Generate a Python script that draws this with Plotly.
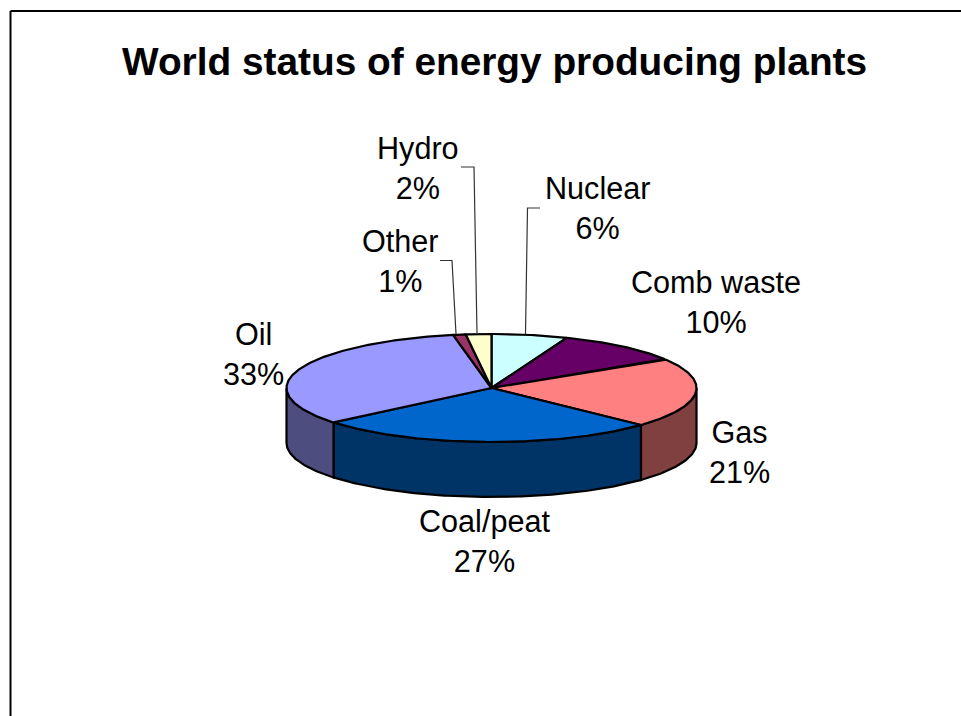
import numpy as np
import plotly.graph_objects as go

categories = ["Nuclear", "Comb waste", "Gas", "Coal/peat", "Oil", "Other", "Hydro"]
values = [6, 10, 21, 27, 33, 1, 2]
top_colors = ["#CCFFFF", "#660066", "#FF8080", "#0066CC", "#9999FF", "#993366", "#FFFFCC"]
wall_colors = ["#668080", "#330033", "#804040", "#003366", "#4D4D80", "#4D1A33", "#808066"]
label_pos = [(597, 208), (716, 302), (739, 452), (484, 541), (253, 354), (400, 261), (418, 168)]
leaders = {"Nuclear": [(540, 208), (527.5, 208), (525.5, 334)],
           "Other": [(440, 260.5), (452, 260.5), (456, 334)],
           "Hydro": [(461, 167), (474, 167), (477, 334)]}

CX, CY, RX, RY, DEPTH = 491.5, 388, 205, 54, 55
W, H = 961, 716


def rim(a0, a1, n=None):
    n = n or max(3, int(abs(a1 - a0) * 1.5))
    a = np.radians(np.linspace(a0, a1, n))
    return CX + RX * np.sin(a), CY - RY * np.cos(a)


fig = go.Figure()
total = sum(values)
edges = np.concatenate([[0], np.cumsum(values)]) * 360.0 / total

# side walls: only the part of each slice on the near half of the ellipse
for i, c in enumerate(categories):
    a0, a1 = max(edges[i], 90), min(edges[i + 1], 270)
    if a1 <= a0:
        continue
    x, y = rim(a0, a1)
    fig.add_trace(go.Scatter(
        x=np.concatenate([x, x[::-1], x[:1]]),
        y=np.concatenate([y, y[::-1] + DEPTH, y[:1]]),
        mode="lines", fill="toself", fillcolor=wall_colors[i],
        line=dict(color="black", width=2.2), hoverinfo="skip", showlegend=False))

# top faces
for i, c in enumerate(categories):
    x, y = rim(edges[i], edges[i + 1])
    fig.add_trace(go.Scatter(
        x=np.concatenate([[CX], x, [CX]]),
        y=np.concatenate([[CY], y, [CY]]),
        mode="lines", fill="toself", fillcolor=top_colors[i],
        line=dict(color="black", width=2.2), hoverinfo="skip", showlegend=False))

# leader lines
for c, pts in leaders.items():
    fig.add_trace(go.Scatter(
        x=[p[0] for p in pts], y=[p[1] for p in pts], mode="lines",
        line=dict(color="#333333", width=1.2), hoverinfo="skip", showlegend=False))

for c, v, (lx, ly) in zip(categories, values, label_pos):
    fig.add_annotation(x=lx, y=ly, text=f"{c}<br>{round(v * 100 / total)}%", showarrow=False,
                       font=dict(family="Liberation Sans", size=30.6, color="black"),
                       xanchor="center", yanchor="middle", align="center")

fig.add_annotation(x=494, y=61, text="<b>World status of energy producing plants</b>", showarrow=False,
                   font=dict(family="Liberation Sans", size=38.8, color="black"),
                   xanchor="center", yanchor="middle")

fig.add_shape(type="line", x0=10.5, x1=10.5, y0=11, y1=H, line=dict(color="black", width=2))
fig.add_shape(type="line", x0=10.5, x1=W, y0=11, y1=11, line=dict(color="black", width=2))

fig.update_layout(
    width=W, height=H, margin=dict(l=0, r=0, t=0, b=0),
    paper_bgcolor="white", plot_bgcolor="white", showlegend=False,
    xaxis=dict(range=[0, W], visible=False, fixedrange=True),
    yaxis=dict(range=[H, 0], visible=False, fixedrange=True),
)
fig.write_html("out.html", config={"displayModeBar": False},
               post_script="document.body.style.margin='0';document.body.style.overflow='hidden';")
